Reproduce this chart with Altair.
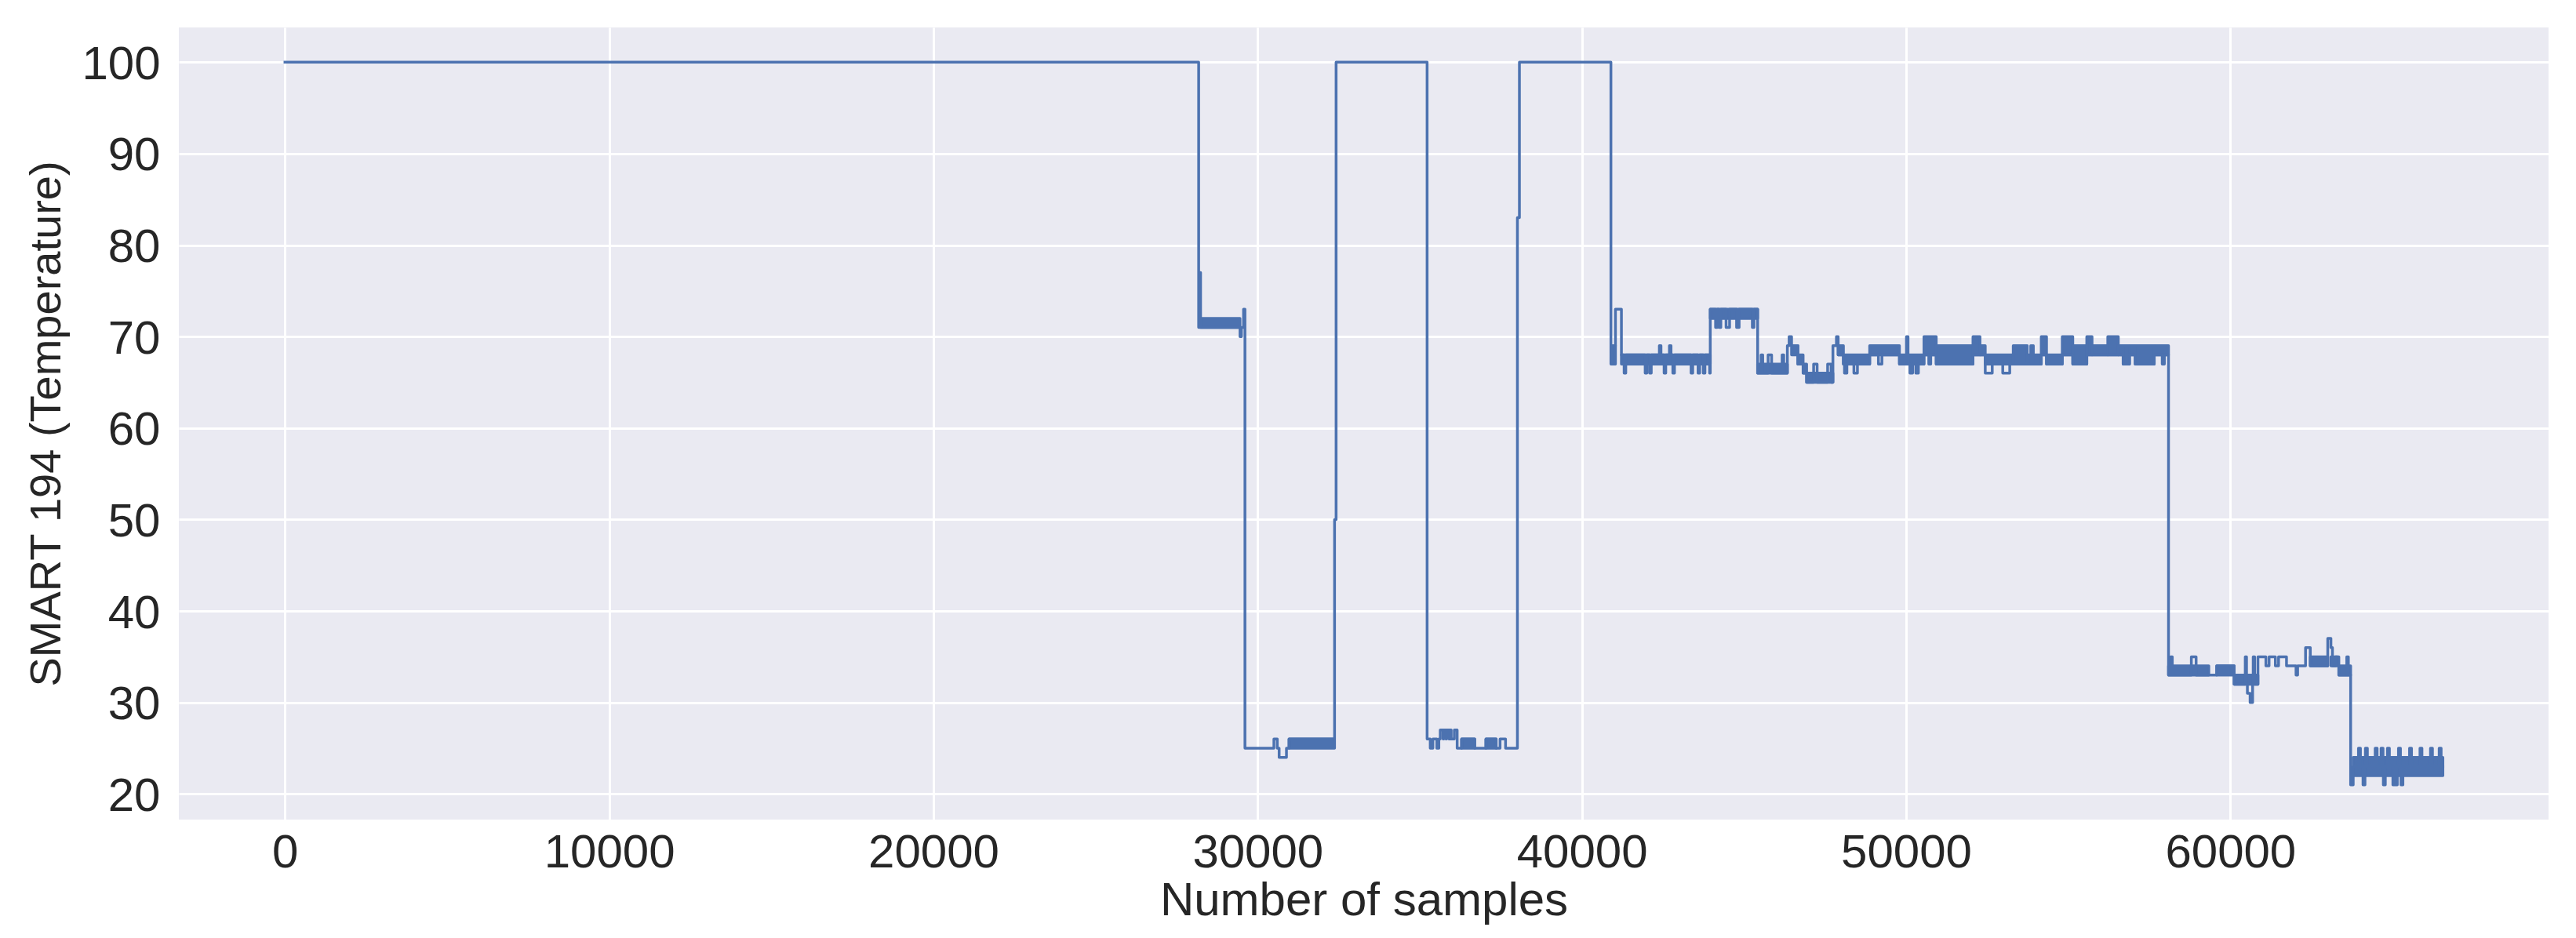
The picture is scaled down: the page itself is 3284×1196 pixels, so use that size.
import altair as alt
import pandas as pd

# ---- data (sample index, SMART 194 value), step-after ----
line_x = [0, 28181, 28215, 28240, 29456, 29500, 29565, 29609, 30502, 30606, 30663, 30889,
          30969, 32372, 32420, 35227, 35324, 35405, 35526, 35589, 35632, 35720, 35740, 35809,
          35825, 35900, 35915, 35970, 36066, 36154, 36291, 36695, 37041, 37356, 37477, 37646,
          38012, 38074, 40896, 40927, 41036, 41220, 41304, 41354, 41953, 42003, 42090, 42140,
          42390, 42440, 42537, 42587, 42700, 42750, 42806, 42856, 43369, 43419, 43584, 43634,
          43746, 43796, 43940, 43960, 44124, 44174, 44230, 44286, 44448, 44556, 44772, 44850,
          45258, 45308, 45421, 45528, 45578, 45744, 45852, 46176, 46226, 46338, 46392, 46468,
          46662, 46824, 46932, 47148, 47256, 47580, 47688, 47743, 47851, 47905, 48067, 48100,
          48174, 48390, 48499, 48877, 49147, 49255, 49795, 50011, 50060, 50119, 50200, 50300,
          50380, 50551, 50700, 50760, 50929, 52063, 52441, 52657, 52981, 53197, 53845, 53870,
          53899, 53925, 54169, 54331, 54817, 55141, 55573, 55735, 56221, 56545, 56695, 56890,
          57066, 57653, 57900, 57966, 58094, 58162, 58210, 58798, 58945, 59581, 60119, 60461,
          60500, 60526, 60610, 60688, 60706, 60750, 60852, 61097, 61195, 61390, 61488, 61733,
          62027, 62076, 62320, 62467, 63005, 63103, 63150, 63249, 63347, 63592, 63641, 63711,
          63790, 63953, 64013, 64093, 64153, 64167, 64227, 64468, 64528, 64650, 64710, 64720,
          64780, 64846, 64906, 65014, 65074, 65095, 65150, 65187, 65247, 65263, 65323, 65528,
          65588, 65850, 65910, 66174, 66234, 66442, 66502, 66556]
line_y = [100, 71, 77, 71, 70, 71, 73, 25, 26, 25, 24, 25,
          26, 50, 100, 26, 25, 26, 25, 26, 27, 26, 27, 26,
          27, 26, 27, 26, 27, 25, 26, 25, 26, 25, 26, 25,
          83, 100, 67, 69, 73, 68, 66, 68, 66, 68, 66, 68,
          69, 68, 66, 68, 69, 68, 66, 68, 66, 68, 66, 68,
          66, 68, 66, 73, 71, 73, 71, 73, 71, 73, 71, 73,
          71, 73, 66, 68, 66, 68, 66, 68, 66, 69, 70, 69,
          67, 66, 65, 67, 65, 67, 65, 69, 70, 68, 67, 66,
          67, 66, 67, 68, 67, 68, 67, 70, 67, 66, 67, 66,
          67, 68, 67, 68, 67, 68, 66, 67, 66, 67, 69, 67,
          69, 67, 68, 67, 68, 67, 68, 68, 68, 68, 67, 68,
          67, 68, 67, 68, 33, 35, 33, 35, 33, 34, 32, 35,
          32, 31, 30, 32, 35, 32, 35, 34, 35, 34, 35, 34,
          33, 34, 36, 34, 37, 36, 34, 35, 33, 35, 33, 21,
          23, 25, 23, 21, 23, 25, 23, 25, 23, 25, 23, 21,
          23, 25, 23, 21, 23, 21, 23, 25, 23, 21, 23, 25,
          23, 25, 23, 25, 23, 25, 23, 23]

# dense oscillation bands (start, end, low value, high value)
band_x0 = [28240, 30969, 36291, 37041, 40927, 41220, 43960, 45421, 46468, 46662, 46824,
           46932, 47905, 48067, 48877, 49795, 50551, 50929, 52063, 52279, 52441, 53305,
           53737, 54169, 54331, 54817, 55141, 55573, 55735, 56221, 56545, 56695, 57066,
           58094, 59581, 60119, 62467, 63103, 63347, 63790]
band_x1 = [29456, 32372, 36695, 37356, 41036, 43960, 45421, 46338, 46662, 46824, 46932,
           47743, 48067, 48877, 49795, 50551, 50929, 52063, 52279, 52441, 53305, 53737,
           54169, 54331, 54817, 55141, 55573, 55735, 56221, 56545, 58094, 56890, 57653,
           59336, 60119, 60852, 63005, 63298, 63711, 66556]
band_lo = [71, 25, 25, 25, 67, 67, 72, 66, 68, 67, 66,
           65, 68, 67, 68, 67, 68, 67, 68, 68, 67, 67,
           67, 68, 67, 68, 67, 68, 68, 68, 68, 67, 67,
           33, 33, 32, 34, 34, 33, 22]
band_hi = [72, 26, 26, 26, 69, 68, 73, 67, 69, 68, 67,
           66, 69, 68, 69, 68, 70, 69, 70, 69, 68, 69,
           68, 70, 68, 70, 69, 70, 69, 70, 69, 69, 69,
           34, 34, 33, 35, 35, 34, 24]

x_ticks = [0, 10000, 20000, 30000, 40000, 50000, 60000]
y_ticks = [20, 30, 40, 50, 60, 70, 80, 90, 100]

line_df = pd.DataFrame({"sample": line_x, "temp": line_y})
band_df = pd.DataFrame({"x0": band_x0, "x1": band_x1, "lo": band_lo, "hi": band_hi})

BLUE = "#4C72B0"
TEXT = "#262626"
FONT = "Liberation Sans"
W, H = 3021, 1010
LW = 3.5

xscale = alt.Scale(domain=[-3273, 69815], nice=False, zero=False)
yscale = alt.Scale(domain=[17.2, 103.8], nice=False, zero=False)

xaxis = alt.Axis(values=x_ticks, format="d", title="Number of samples",
                 grid=True, gridColor="white", gridWidth=3, domain=False,
                 ticks=False, tickSize=0, labelPadding=60, labelBaseline="alphabetic",
                 labelFontSize=60, labelFont=FONT, labelColor=TEXT,
                 labelFlush=False, labelOverlap=False,
                 titleFont=FONT, titleFontSize=60, titleFontWeight="normal",
                 titleColor=TEXT, titleX=W / 2, titleY=121,
                 titleBaseline="alphabetic", titleAlign="center")
yaxis = alt.Axis(values=y_ticks, format="d", title="SMART 194 (Temperature)",
                 grid=True, gridColor="white", gridWidth=3, domain=False,
                 ticks=False, tickSize=0, labelPadding=24, labelBaseline="alphabetic",
                 labelOffset=21, labelFontSize=60, labelFont=FONT, labelColor=TEXT,
                 labelFlush=False, labelOverlap=False,
                 titleFont=FONT, titleFontSize=56, titleFontWeight="normal",
                 titleColor=TEXT, titleAngle=270, titleX=-152, titleY=505,
                 titleBaseline="alphabetic", titleAlign="center")

bands = alt.Chart(band_df).mark_rect(
    color=BLUE, stroke=BLUE, strokeWidth=LW, strokeJoin="round"
).encode(
    x=alt.X("x0:Q", scale=xscale, axis=xaxis),
    x2="x1:Q",
    y=alt.Y("lo:Q", scale=yscale, axis=yaxis),
    y2="hi:Q",
)

line = alt.Chart(line_df).mark_line(
    color=BLUE, strokeWidth=LW, interpolate="step-after",
    strokeJoin="round", strokeCap="square"
).encode(
    x=alt.X("sample:Q", scale=xscale, axis=xaxis),
    y=alt.Y("temp:Q", scale=yscale, axis=yaxis),
)

chart = alt.layer(bands, line).properties(
    width=W, height=H,
    padding={"left": 220, "top": 27, "right": 19, "bottom": 135},
    autosize=alt.AutoSizeParams(type="none"),
    background="white",
).configure_view(fill="#EAEAF2", strokeWidth=0)

chart.save("out.html", embed_options={"renderer": "svg", "actions": False})
